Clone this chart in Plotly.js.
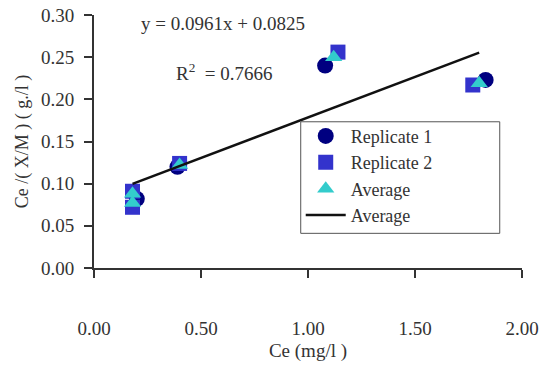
<!DOCTYPE html>
<html>
<head>
<meta charset="utf-8">
<script src="https://cdn.plot.ly/plotly-3.0.1.min.js"></script>
<style>html,body{margin:0;padding:0;background:#fff;}#chart{width:545px;height:369px;}</style>
</head>
<body>
<div id="chart"></div>
<script>
// Data
const rep1X = [0.20, 0.39, 1.08, 1.83];
const rep1Y = [0.082, 0.120, 0.240, 0.223];
const rep2X = [0.18, 0.18, 0.40, 1.14, 1.77];
const rep2Y = [0.091, 0.072, 0.124, 0.256, 0.217];
const avgX = [0.18, 0.18, 0.40, 1.12, 1.80];
const avgY = [0.088, 0.077, 0.122, 0.250, 0.219];
const trendSlope = 0.0961;
const trendIntercept = 0.0825;
const rSquared = 0.7666;
const xTickVals = [0, 0.5, 1.0, 1.5, 2.0];
const yTickVals = [0, 0.05, 0.10, 0.15, 0.20, 0.25, 0.30];

const trendX = [Math.min(...avgX), Math.max(...avgX)];
const trendY = trendX.map(x => trendSlope * x + trendIntercept);

const FONT = '"Liberation Serif", "Times New Roman", serif';
const TXT = '#333333';

const traces = [
  {x: rep1X, y: rep1Y, type: 'scatter', mode: 'markers', name: 'Replicate 1',
   marker: {symbol: 'circle', size: 16, color: '#000080'}},
  {x: rep2X, y: rep2Y, type: 'scatter', mode: 'markers', name: 'Replicate 2',
   marker: {symbol: 'square', size: 15, color: '#3333cc'}},
  {x: avgX, y: avgY, type: 'scatter', mode: 'markers', name: 'Average',
   marker: {symbol: 'triangle-up', size: 15, color: '#33cccc'}},
  {x: trendX, y: trendY, type: 'scatter', mode: 'lines', name: 'Average',
   line: {color: '#111111', width: 2.5}}
];

const layout = {
  width: 545, height: 369,
  margin: {l: 94, r: 23, t: 15, b: 101},
  paper_bgcolor: '#ffffff', plot_bgcolor: '#ffffff',
  font: {family: FONT, size: 19, color: TXT},
  showlegend: true,
  legend: {
    x: 0.483, y: 0.594, xanchor: 'left', yanchor: 'top',
    bgcolor: 'rgba(0,0,0,0)', borderwidth: 0,
    font: {family: FONT, size: 18, color: TXT},
    itemwidth: 40, tracegroupgap: 0
  },
  shapes: [
    {type: 'rect', xref: 'paper', yref: 'paper', x0: 0.483, x1: 0.948, y0: 0.137, y1: 0.578,
     fillcolor: '#ffffff', line: {color: '#555555', width: 1}, layer: 'above'}
  ],
  xaxis: {
    range: [0, 2], tickvals: xTickVals, tickformat: '.2f',
    showgrid: false, zeroline: false,
    showline: true, linecolor: '#333333', linewidth: 2,
    ticks: 'outside', ticklen: 8, tickwidth: 2, tickcolor: '#333333',
    ticklabelstandoff: 34,
    tickfont: {family: FONT, size: 19, color: TXT},
    title: {text: 'Ce (mg/l )', font: {family: FONT, size: 19, color: TXT}, standoff: 6}
  },
  yaxis: {
    range: [0, 0.3], tickvals: yTickVals, tickformat: '.2f',
    showgrid: false, zeroline: false,
    showline: true, linecolor: '#333333', linewidth: 2,
    ticks: 'outside', ticklen: 8, tickwidth: 2, tickcolor: '#333333',
    ticklabelstandoff: 6,
    tickfont: {family: FONT, size: 19, color: TXT},
    title: {text: 'Ce /( X/M ) ( g./l )', font: {family: FONT, size: 18, color: TXT}, standoff: 8}
  },
  annotations: [
    {xref: 'x', yref: 'y', x: 0.21, y: 0.2905, xanchor: 'left', yanchor: 'middle', showarrow: false,
     text: 'y = ' + trendSlope.toFixed(4) + 'x + ' + trendIntercept.toFixed(4),
     font: {family: FONT, size: 19, color: TXT}},
    {xref: 'x', yref: 'y', x: 0.372, y: 0.232, xanchor: 'left', yanchor: 'middle', showarrow: false,
     text: 'R<sup>2</sup>  = ' + rSquared.toFixed(4),
     font: {family: FONT, size: 19, color: TXT}}
  ]
};

Plotly.newPlot('chart', traces, layout, {displayModeBar: false, staticPlot: true});
</script>
</body>
</html>
